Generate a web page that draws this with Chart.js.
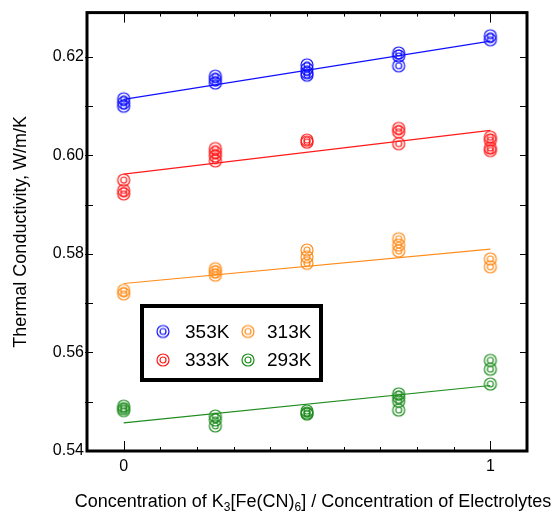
<!DOCTYPE html>
<html>
<head>
<meta charset="utf-8">
<script src="https://cdn.jsdelivr.net/npm/chart.js@4"></script>
<style>
html,body{margin:0;padding:0;background:#fff;}
#wrap{width:554px;height:512px;}
</style>
</head>
<body>
<div id="wrap"><canvas id="c" width="554" height="512"></canvas></div>
<script>
// ---- data ----
const concentrations = [0, 0.25, 0.5, 0.75, 1];
const k353 = [[0.6115,0.6107,0.6100],[0.6161,0.6154,0.6147],[0.6184,0.6176,0.6168,0.6163],[0.6208,0.6202,0.6182],[0.6243,0.6235]];
const k333 = [[0.5950,0.5929,0.5922],[0.6014,0.6006,0.5999,0.5989],[0.6031,0.6027],[0.6055,0.6048,0.6024],[0.6037,0.6031,0.6015,0.6010]];
const k313 = [[0.5726,0.5719],[0.5770,0.5764,0.5757],[0.5808,0.5794,0.5781],[0.5831,0.5818,0.5806],[0.5790,0.5774]];
const k293 = [[0.5491,0.5486,0.5482],[0.5471,0.5463,0.5451],[0.5481,0.5477,0.5475],[0.5516,0.5509,0.5501,0.5483],[0.5584,0.5566,0.5536]];
const fitX = [0, 1];
const fit353 = [0.6114, 0.6232];
const fit333 = [0.5962, 0.6051];
const fit313 = [0.5740, 0.5810];
const fit293 = [0.5457, 0.5533];
const seriesNames = ['353K', '333K', '313K', '293K'];
const seriesColors = ['#1010ff', '#ff1a1a', '#ff8c1a', '#1e8c1e'];
const yTicks = [0.54, 0.56, 0.58, 0.60, 0.62];
const xTicks = [0, 1];

function ringIcon(color){
  const c = document.createElement('canvas');
  c.width = 16; c.height = 16;
  const g = c.getContext('2d');
  g.strokeStyle = color; g.lineWidth = 1.2;
  g.beginPath(); g.arc(8, 8, 6, 0, Math.PI*2); g.stroke();
  g.beginPath(); g.arc(8, 8, 3, 0, Math.PI*2); g.stroke();
  return c;
}
const icons = seriesColors.map(ringIcon);

function toPoints(groups){
  const pts = [];
  groups.forEach((vals, i) => vals.forEach(v => pts.push({x: concentrations[i], y: v})));
  return pts;
}
const allSeries = [k353, k333, k313, k293];
const allFits = [fit353, fit333, fit313, fit293];

const datasets = [];
allSeries.forEach((s, i) => {
  datasets.push({
    type: 'scatter', label: seriesNames[i], data: toPoints(s),
    pointStyle: icons[i], pointRadius: 7, order: 1
  });
  datasets.push({
    type: 'line', label: seriesNames[i] + ' fit',
    data: fitX.map((x, j) => ({x: x, y: allFits[i][j]})),
    borderColor: seriesColors[i], borderWidth: 1.2, pointRadius: 0, fill: false, order: 2
  });
});

const framePlugin = {
  id: 'frame',
  afterDraw(chart){
    const ctx = chart.ctx, a = chart.chartArea;
    const xs = chart.scales.x, ys = chart.scales.y;
    ctx.save();
    ctx.strokeStyle = '#000';
    ctx.lineWidth = 1;
    // y ticks (every 0.01) on left and right, inward
    for (let k = 55; k <= 62; k++){
      const y = Math.round(ys.getPixelForValue(k/100)) + 0.5;
      ctx.beginPath(); ctx.moveTo(a.left - 2, y); ctx.lineTo(a.left + 6, y); ctx.stroke();
      ctx.beginPath(); ctx.moveTo(a.right - 7, y); ctx.lineTo(a.right, y); ctx.stroke();
    }
    // x ticks every 0.1, inward on bottom and top
    for (let k = 0; k <= 10; k++){
      const x = Math.round(xs.getPixelForValue(k/10)) + 0.5;
      const len = (k === 0 || k === 10) ? 10 : 4;
      ctx.beginPath(); ctx.moveTo(x, a.bottom); ctx.lineTo(x, a.bottom - len); ctx.stroke();
      ctx.beginPath(); ctx.moveTo(x, a.top); ctx.lineTo(x, a.top + len); ctx.stroke();
    }
    // frame
    ctx.lineWidth = 3;
    ctx.strokeRect(a.left, a.top, a.right - a.left, a.bottom - a.top);

    // y title
    ctx.fillStyle = '#000';
    ctx.font = '18px "Liberation Sans", Arial, sans-serif';
    ctx.save();
    ctx.translate(21, (a.top + a.bottom)/2);
    ctx.rotate(-Math.PI/2);
    ctx.textAlign = 'center'; ctx.textBaseline = 'middle';
    ctx.fillText('Thermal Conductivity, W/m/K', 0, 0);
    ctx.restore();

    // x title with subscripts
    const big = '18px "Liberation Sans", Arial, sans-serif';
    const small = '12px "Liberation Sans", Arial, sans-serif';
    const parts = [['Concentration of K', big, 0], ['3', small, 4], ['[Fe(CN)', big, 0], ['6', small, 4], ['] / Concentration of Electrolytes', big, 0]];
    let total = 0;
    parts.forEach(p => { ctx.font = p[1]; total += ctx.measureText(p[0]).width; });
    let px = 313 - total/2;
    const base = 507;
    ctx.textAlign = 'left'; ctx.textBaseline = 'alphabetic';
    parts.forEach(p => { ctx.font = p[1]; ctx.fillText(p[0], px, base + p[2]); px += ctx.measureText(p[0]).width; });

    // legend
    ctx.lineWidth = 4;
    ctx.strokeRect(142, 306, 179, 74);
    ctx.font = '19px "Liberation Sans", Arial, sans-serif';
    ctx.textBaseline = 'middle';
    const order = [[0, 163, 185, 331.5], [2, 248, 267, 331.5], [1, 163, 185, 360], [3, 248, 267, 360]];
    order.forEach(o => {
      ctx.drawImage(icons[o[0]], o[1] - 8, o[3] - 8);
      ctx.fillText(seriesNames[o[0]], o[2], o[3] + 1);
    });
    ctx.restore();
  }
};

new Chart(document.getElementById('c'), {
  type: 'scatter',
  data: { datasets },
  options: {
    responsive: false, animation: false,
    layout: { padding: { top: 10, right: 27, left: 0, bottom: 0 } },
    plugins: { legend: { display: false }, tooltip: { enabled: false } },
    scales: {
      x: {
        type: 'linear', min: -0.1, max: 1.1,
        grid: { display: false, drawTicks: false }, border: { display: false },
        afterBuildTicks: s => { s.ticks = xTicks.map(v => ({value: v})); },
        afterFit: s => { s.height = 61; },
        ticks: { color: '#000', font: { size: 16, family: '"Liberation Sans", Arial, sans-serif' }, padding: 6, maxRotation: 0,
                 callback: v => String(v) }
      },
      y: {
        type: 'linear', min: 0.54, max: 0.629,
        grid: { display: false, drawTicks: false }, border: { display: false },
        afterBuildTicks: s => { s.ticks = yTicks.map(v => ({value: v})); },
        afterFit: s => { s.width = 87; },
        ticks: { color: '#000', font: { size: 16, family: '"Liberation Sans", Arial, sans-serif' }, padding: 3,
                 callback: v => Number(v).toFixed(2) }
      }
    }
  },
  plugins: [framePlugin]
});
</script>
</body>
</html>
